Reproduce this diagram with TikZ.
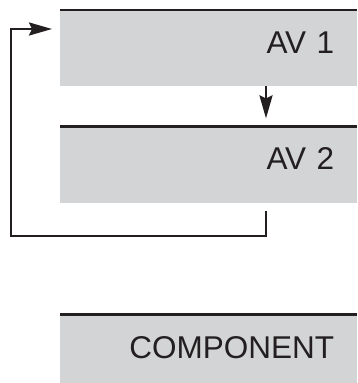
\documentclass[tikz,border=0pt]{standalone}
\usepackage{fontspec}
\setmainfont{Liberation Sans}
\usepackage{tikz}
\usetikzlibrary{positioning,arrows.meta}

\definecolor{boxgray}{HTML}{D3D4D6}
\definecolor{inkblack}{HTML}{231F20}

\begin{document}
\begin{tikzpicture}[x=1pt, y=-1pt,
  avbox/.style={rectangle, fill=boxgray, anchor=north west, minimum width=297pt,
    minimum height=76pt, text width=251pt, inner xsep=23pt, inner ysep=0pt, align=right,
    text height=22pt, text depth=12pt, text=inkblack, font=\fontsize{31.5}{36}\selectfont},
  topline/.style={draw=inkblack, line width=2.8pt},
  arr/.style={draw=inkblack, line width=2.4pt, -{Stealth[length=23pt, width=13pt, inset=3pt]}}]

\useasboundingbox (0,0) rectangle (357,383);

% Nodes
\node[avbox] (av1) at (60,10) {AV 1};
\node[avbox, below=40pt of av1] (av2) {AV 2};
\node[avbox, below=112pt of av2] (comp) {COMPONENT};

\foreach \b in {av1,av2,comp}
  \draw[topline] (\b.north west) -- (\b.north east);

% Feedback corners
\coordinate (fbs) at ([xshift=206pt, yshift=-8pt]av2.south west);
\coordinate (fbl) at (11,236);
\coordinate (fbe) at ([xshift=-8pt, yshift=-19pt]av1.north west);

% Arrows
\draw[arr] ([xshift=206pt]av1.south west) -- ([xshift=206pt, yshift=8pt]av2.north west);
\draw[arr] (fbs) |- (fbl) |- (fbe);

\end{tikzpicture}
\end{document}
